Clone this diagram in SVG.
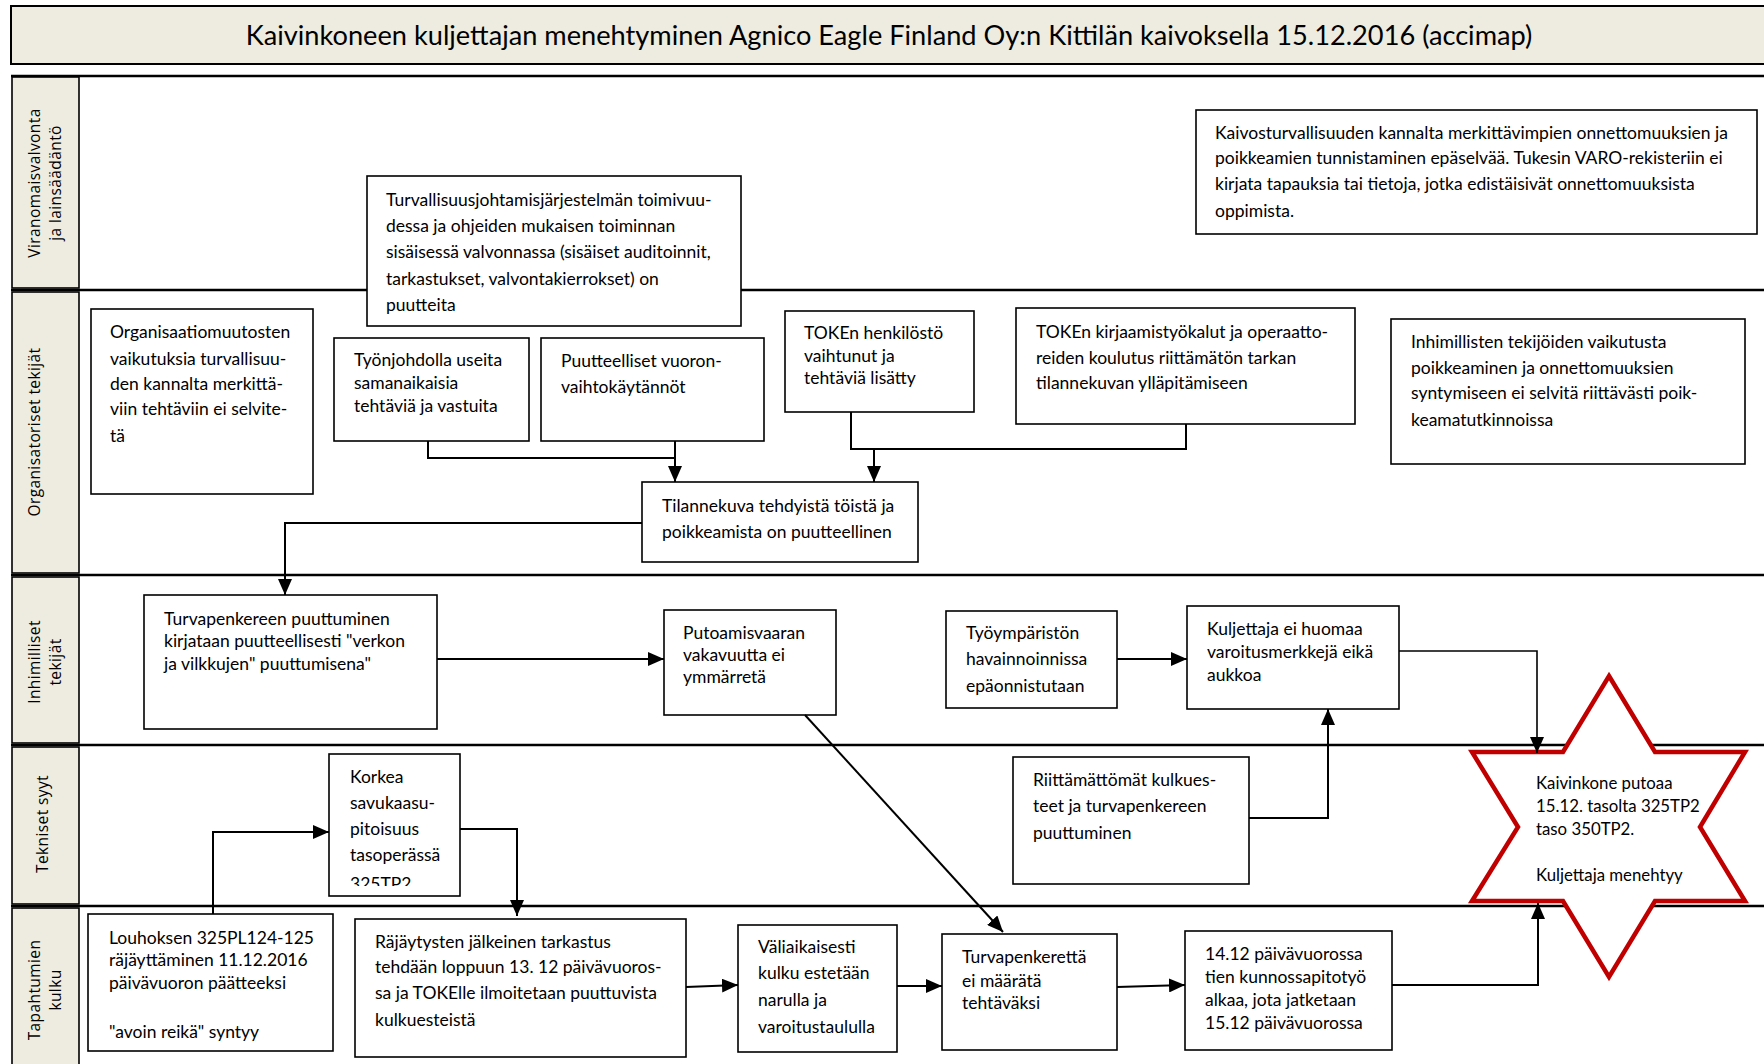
<svg xmlns="http://www.w3.org/2000/svg" width="1764" height="1064" viewBox="0 0 1764 1064">
<style>
.bx{fill:#fff;stroke:#000;stroke-width:1.6}
.cell{fill:#eeece1;stroke:#000;stroke-width:1.6}
.t{font-family:Lato,"Liberation Sans",sans-serif;font-size:17.5px;fill:#000}
.ts{font-family:Lato,"Liberation Sans",sans-serif;font-size:16.8px;fill:#000}
.lbl{font-family:"Open Sans","DejaVu Sans",sans-serif;font-size:15.5px;fill:#000;text-anchor:middle;letter-spacing:0.4px}
.ln{stroke:#000;stroke-width:2.6;fill:none}
.c{stroke:#000;stroke-width:2;fill:none}
.c1{stroke:#000;stroke-width:1.6;fill:none}
</style>
<defs>
<marker id="ah" markerUnits="userSpaceOnUse" markerWidth="16" markerHeight="14" refX="16" refY="7" orient="auto">
<path d="M0,0 L16,7 L0,14 Z" fill="#000"/>
</marker>
<clipPath id="clipK"><rect x="329" y="754" width="131" height="132"/></clipPath>
</defs>

<g id="title">
<rect x="11" y="6" width="1760" height="58" fill="#eeece1" stroke="#000" stroke-width="2"/>
<text x="889" y="45" text-anchor="middle" style="font-family:Lato,'Liberation Sans',sans-serif;font-size:27.2px">Kaivinkoneen kuljettajan menehtyminen Agnico Eagle Finland Oy:n Kittilän kaivoksella 15.12.2016 (accimap)</text>
</g>

<g id="lanes">
<line class="ln" x1="11" y1="76" x2="1764" y2="76"/>
<line class="ln" x1="11" y1="290" x2="1764" y2="290"/>
<line class="ln" x1="11" y1="575" x2="1764" y2="575"/>
<line class="ln" x1="11" y1="745" x2="1764" y2="745"/>
<line class="ln" x1="11" y1="906" x2="1764" y2="906"/>
<rect class="cell" x="12" y="77" width="67" height="211"/>
<rect class="cell" x="12" y="292" width="67" height="281"/>
<rect class="cell" x="12" y="577" width="67" height="166"/>
<rect class="cell" x="12" y="747" width="67" height="157"/>
<rect class="cell" x="12" y="908" width="67" height="160"/>
<text class="lbl" transform="translate(40,183) rotate(-90)">Viranomaisvalvonta</text>
<text class="lbl" transform="translate(61,183) rotate(-90)">ja lainsäädäntö</text>
<text class="lbl" transform="translate(40,432) rotate(-90)">Organisatoriset tekijät</text>
<text class="lbl" transform="translate(40,662) rotate(-90)">Inhimilliset</text>
<text class="lbl" transform="translate(61,662) rotate(-90)">tekijät</text>
<text class="lbl" transform="translate(48,824) rotate(-90)">Tekniset syyt</text>
<text class="lbl" transform="translate(40,990) rotate(-90)">Tapahtumien</text>
<text class="lbl" transform="translate(61,990) rotate(-90)">kulku</text>
</g>

<g id="n-kaivosturvallisuus">
<rect class="bx" x="1196" y="110" width="561" height="124"/>
<text class="t" x="1215" y="139">Kaivosturvallisuuden kannalta merkittävimpien onnettomuuksien ja</text>
<text class="t" x="1215" y="164">poikkeamien tunnistaminen epäselvää. Tukesin VARO-rekisteriin ei</text>
<text class="t" x="1215" y="190">kirjata tapauksia tai tietoja, jotka edistäisivät onnettomuuksista</text>
<text class="t" x="1215" y="217">oppimista.</text>
</g>

<g id="n-turvallisuusjohtaminen">
<rect class="bx" x="367" y="176" width="374" height="150"/>
<text class="t" x="386" y="206">Turvallisuusjohtamisjärjestelmän toimivuu-</text>
<text class="t" x="386" y="232">dessa ja ohjeiden mukaisen toiminnan</text>
<text class="t" x="386" y="258">sisäisessä valvonnassa (sisäiset auditoinnit,</text>
<text class="t" x="386" y="285">tarkastukset, valvontakierrokset) on</text>
<text class="t" x="386" y="311">puutteita</text>
</g>

<g id="n-organisaatiomuutokset">
<rect class="bx" x="91" y="309" width="222" height="185"/>
<text class="t" x="110" y="338">Organisaatiomuutosten</text>
<text class="t" x="110" y="365">vaikutuksia turvallisuu-</text>
<text class="t" x="110" y="390">den kannalta merkittä-</text>
<text class="t" x="110" y="415">viin tehtäviin ei selvite-</text>
<text class="t" x="110" y="442">tä</text>
</g>

<g id="n-tyonjohto">
<rect class="bx" x="334" y="338" width="195" height="103"/>
<text class="t" x="354" y="366">Työnjohdolla useita</text>
<text class="t" x="354" y="389">samanaikaisia</text>
<text class="t" x="354" y="412">tehtäviä ja vastuita</text>
</g>

<g id="n-vuoronvaihto">
<rect class="bx" x="541" y="338" width="223" height="103"/>
<text class="t" x="561" y="367">Puutteelliset vuoron-</text>
<text class="t" x="561" y="393">vaihtokäytännöt</text>
</g>

<g id="n-token-henkilosto">
<rect class="bx" x="785" y="311" width="189" height="101"/>
<text class="t" x="804" y="339">TOKEn henkilöstö</text>
<text class="t" x="804" y="362">vaihtunut ja</text>
<text class="t" x="804" y="384">tehtäviä lisätty</text>
</g>

<g id="n-token-tyokalut">
<rect class="bx" x="1016" y="308" width="339" height="116"/>
<text class="t" x="1036" y="338">TOKEn kirjaamistyökalut ja operaatto-</text>
<text class="t" x="1036" y="364">reiden koulutus riittämätön tarkan</text>
<text class="t" x="1036" y="389">tilannekuvan ylläpitämiseen</text>
</g>

<g id="n-inhimilliset-tekijat">
<rect class="bx" x="1391" y="319" width="354" height="145"/>
<text class="t" x="1411" y="348">Inhimillisten tekijöiden vaikutusta</text>
<text class="t" x="1411" y="374">poikkeaminen ja onnettomuuksien</text>
<text class="t" x="1411" y="399">syntymiseen ei selvitä riittävästi poik-</text>
<text class="t" x="1411" y="426">keamatutkinnoissa</text>
</g>

<g id="n-tilannekuva">
<rect class="bx" x="642" y="482" width="276" height="80"/>
<text class="t" x="662" y="512">Tilannekuva tehdyistä töistä ja</text>
<text class="t" x="662" y="538">poikkeamista on puutteellinen</text>
</g>

<g id="n-kirjaus">
<rect class="bx" x="144" y="595" width="293" height="134"/>
<text class="t" x="164" y="625">Turvapenkereen puuttuminen</text>
<text class="t" x="164" y="647">kirjataan puutteellisesti "verkon</text>
<text class="t" x="164" y="670">ja vilkkujen" puuttumisena"</text>
</g>

<g id="n-putoamisvaara">
<rect class="bx" x="664" y="610" width="172" height="105"/>
<text class="t" x="683" y="639">Putoamisvaaran</text>
<text class="t" x="683" y="661">vakavuutta ei</text>
<text class="t" x="683" y="683">ymmärretä</text>
</g>

<g id="n-tyoymparisto">
<rect class="bx" x="946" y="611" width="171" height="97"/>
<text class="t" x="966" y="639">Työympäristön</text>
<text class="t" x="966" y="665">havainnoinnissa</text>
<text class="t" x="966" y="692">epäonnistutaan</text>
</g>

<g id="n-kuljettaja">
<rect class="bx" x="1187" y="606" width="212" height="103"/>
<text class="t" x="1207" y="635">Kuljettaja ei huomaa</text>
<text class="t" x="1207" y="658">varoitusmerkkejä eikä</text>
<text class="t" x="1207" y="681">aukkoa</text>
</g>

<g id="n-savukaasu">
<rect class="bx" x="329" y="754" width="131" height="142"/>
<g clip-path="url(#clipK)">
<text class="t" x="350" y="783">Korkea</text>
<text class="t" x="350" y="809">savukaasu-</text>
<text class="t" x="350" y="835">pitoisuus</text>
<text class="t" x="350" y="861">tasoperässä</text>
<text class="t" x="350" y="890">325TP2</text>
</g>
</g>

<g id="n-kulkuesteet">
<rect class="bx" x="1013" y="757" width="236" height="127"/>
<text class="t" x="1033" y="786">Riittämättömät kulkues-</text>
<text class="t" x="1033" y="812">teet ja turvapenkereen</text>
<text class="t" x="1033" y="839">puuttuminen</text>
</g>

<g id="n-louhos">
<rect class="bx" x="88" y="914" width="245" height="137"/>
<text class="t" x="109" y="944">Louhoksen 325PL124-125</text>
<text class="t" x="109" y="966">räjäyttäminen 11.12.2016</text>
<text class="t" x="109" y="989">päivävuoron päätteeksi</text>
<text class="t" x="109" y="1038">"avoin reikä" syntyy</text>
</g>

<g id="n-tarkastus">
<rect class="bx" x="355" y="919" width="331" height="138"/>
<text class="t" x="375" y="948">Räjäytysten jälkeinen tarkastus</text>
<text class="t" x="375" y="973">tehdään loppuun 13. 12 päivävuoros-</text>
<text class="t" x="375" y="999">sa ja TOKElle ilmoitetaan puuttuvista</text>
<text class="t" x="375" y="1026">kulkuesteistä</text>
</g>

<g id="n-valiaikainen">
<rect class="bx" x="738" y="925" width="159" height="127"/>
<text class="t" x="758" y="953">Väliaikaisesti</text>
<text class="t" x="758" y="979">kulku estetään</text>
<text class="t" x="758" y="1006">narulla ja</text>
<text class="t" x="758" y="1033">varoitustaululla</text>
</g>

<g id="n-turvapenger">
<rect class="bx" x="942" y="934" width="175" height="116"/>
<text class="t" x="962" y="963">Turvapenkerettä</text>
<text class="t" x="962" y="987">ei määrätä</text>
<text class="t" x="962" y="1009">tehtäväksi</text>
</g>

<g id="n-kunnossapito">
<rect class="bx" x="1185" y="931" width="207" height="119"/>
<text class="t" x="1205" y="960">14.12 päivävuorossa</text>
<text class="t" x="1205" y="983">tien kunnossapitotyö</text>
<text class="t" x="1205" y="1006">alkaa, jota jatketaan</text>
<text class="t" x="1205" y="1029">15.12 päivävuorossa</text>
</g>

<g id="n-onnettomuus">
<polygon points="1609,676 1655,752 1745,752 1700,827 1745,901 1655,901 1609,977 1563,901 1472,901 1518,827 1472,752 1563,752" fill="#fff" stroke="#c00000" stroke-width="4.5" stroke-linejoin="miter"/>
<text class="ts" x="1536" y="789">Kaivinkone putoaa</text>
<text class="ts" x="1536" y="812">15.12. tasolta 325TP2</text>
<text class="ts" x="1536" y="835">taso 350TP2.</text>
<text class="ts" x="1536" y="881">Kuljettaja menehtyy</text>
</g>

<g id="connectors">
<path class="c" d="M428,441 V458 H675"/>
<path class="c" d="M675,441 V482" marker-end="url(#ah)"/>
<path class="c" d="M851,412 V449 H1186 V424"/>
<path class="c" d="M874,449 V482" marker-end="url(#ah)"/>
<path class="c" d="M642,523 H285 V595" marker-end="url(#ah)"/>
<path class="c" d="M437,659 H664" marker-end="url(#ah)"/>
<path class="c" d="M1117,659 H1187" marker-end="url(#ah)"/>
<path class="c1" d="M1399,651 H1537 V753" marker-end="url(#ah)"/>
<path class="c" d="M213,914 V832 H329" marker-end="url(#ah)"/>
<path class="c" d="M460,829 H517 V916" marker-end="url(#ah)"/>
<path class="c" d="M805,715 L1003,932" marker-end="url(#ah)"/>
<path class="c" d="M1249,818 H1328 V709" marker-end="url(#ah)"/>
<path class="c" d="M686,987 L738,985" marker-end="url(#ah)"/>
<path class="c" d="M897,986 H942" marker-end="url(#ah)"/>
<path class="c" d="M1117,987 L1185,985" marker-end="url(#ah)"/>
<path class="c" d="M1392,985 H1538 V903" marker-end="url(#ah)"/>
</g>
</svg>
